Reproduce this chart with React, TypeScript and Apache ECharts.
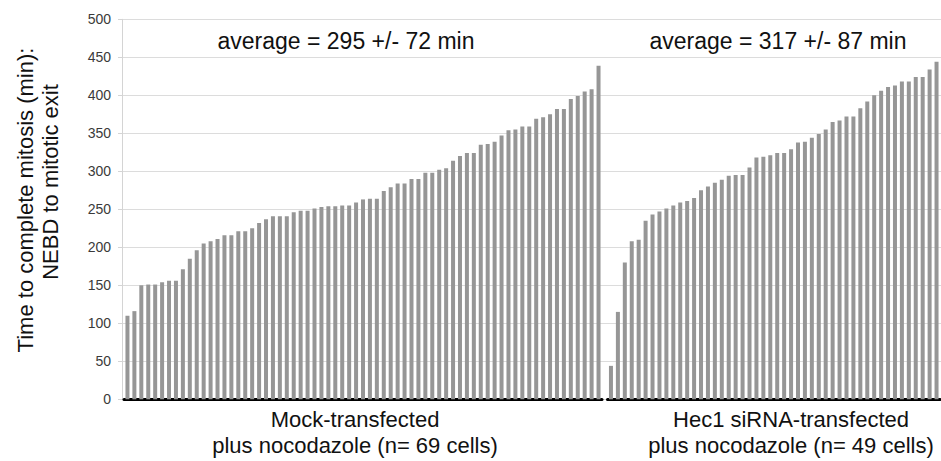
import React, { useEffect, useRef } from "react";
import * as echarts from "echarts";

// Time to complete mitosis (min), one bar per cell, sorted
const mockTimes = [
  110, 116, 150, 151, 151, 154, 156, 156, 171, 185,
  196, 205, 208, 211, 216, 216, 221, 221, 225, 232,
  237, 241, 241, 241, 246, 248, 248, 251, 253, 254,
  254, 255, 255, 259, 263, 264, 264, 274, 279, 284,
  284, 290, 290, 298, 298, 302, 304, 314, 320, 324,
  324, 335, 336, 339, 347, 354, 355, 359, 359, 369,
  371, 375, 382, 382, 395, 399, 405, 408, 439,
];
const hec1Times = [
  44, 115, 180, 208, 210, 235, 243, 247, 251, 255,
  259, 261, 265, 275, 280, 285, 289, 294, 295, 295,
  305, 318, 319, 321, 324, 324, 329, 338, 339, 344,
  349, 355, 365, 367, 372, 372, 383, 392, 400, 406,
  411, 413, 418, 418, 424, 424, 434, 444,
];
const groupTitles = ["average = 295 +/- 72 min", "average = 317 +/- 87 min"];
const groupLabels = [
  "Mock-transfected\nplus nocodazole (n= 69 cells)",
  "Hec1 siRNA-transfected\nplus nocodazole (n= 49 cells)",
];
const yAxisTitleLines = ["Time to complete mitosis (min):", "NEBD to mitotic exit"];
const yMin = 0;
const yMax = 500;
const yStep = 50;

const FONT = "'Liberation Sans', Arial, Helvetica, sans-serif";

export default function App() {
  const ref = useRef<HTMLDivElement>(null);
  useEffect(() => {
    if (!ref.current) return;
    const chart = echarts.init(ref.current, null, { renderer: "svg" });
    const top = 19.3;
    const bottom = 461 - 399.3;
    const hiddenY = (gi: number) => ({
      type: "value" as const,
      gridIndex: gi,
      min: yMin,
      max: yMax,
      interval: yStep,
      show: false,
    });
    const groupX = (gi: number, n: number) => ({
      type: "category" as const,
      gridIndex: gi,
      data: Array.from({ length: n }, (_, i) => String(i + 1)),
      boundaryGap: true,
      offset: 4.7,
      axisLine: { show: true, lineStyle: { color: "#000", width: 3 } },
      axisTick: { show: false },
      axisLabel: { show: false },
      splitLine: { show: false },
    });
    const txt = (x: number, y: number, text: string, fontSize: number, extra: any = {}) => ({
      type: "text",
      x,
      y,
      ...extra,
      style: {
        text,
        fontSize,
        lineHeight: 26,
        fontFamily: FONT,
        fill: "#111",
        align: "center",
        verticalAlign: "middle",
      },
    });
    chart.setOption({
      animation: false,
      backgroundColor: "#fff",
      grid: [
        { left: 122, right: 0, top, bottom },
        { left: 124, width: 478, top, bottom },
        { left: 607.5, right: 1, top, bottom },
      ],
      xAxis: [
        { type: "value", gridIndex: 0, show: false, min: 0, max: 1 },
        groupX(1, mockTimes.length),
        groupX(2, hec1Times.length),
      ],
      yAxis: [
        {
          type: "value",
          gridIndex: 0,
          min: yMin,
          max: yMax,
          interval: yStep,
          axisLine: { show: true, lineStyle: { color: "#d4d4d4", width: 1 } },
          axisTick: { show: true, length: 4, lineStyle: { color: "#d4d4d4" } },
          axisLabel: {
            margin: 11,
            fontSize: 14,
            fontFamily: FONT,
            color: "#3a3a3a",
          },
          splitLine: { show: true, lineStyle: { color: "#dcdcdc", width: 1 } },
        },
        hiddenY(1),
        hiddenY(2),
      ],
      series: [
        {
          type: "bar",
          xAxisIndex: 1,
          yAxisIndex: 1,
          data: mockTimes,
          barWidth: 4,
          itemStyle: { color: "#969696" },
        },
        {
          type: "bar",
          xAxisIndex: 2,
          yAxisIndex: 2,
          data: hec1Times,
          barWidth: 4,
          itemStyle: { color: "#969696" },
        },
      ],
      graphic: [
        txt(346, 41, groupTitles[0], 23),
        txt(778, 41, groupTitles[1], 23),
        txt(355, 432, groupLabels[0], 22),
        txt(791, 432, groupLabels[1], 22),
        txt(25, 200, yAxisTitleLines[0], 22, { rotation: Math.PI / 2 }),
        txt(50, 182, yAxisTitleLines[1], 22, { rotation: Math.PI / 2 }),
      ],
    });
    return () => chart.dispose();
  }, []);
  return (
    <div
      ref={ref}
      style={{ position: "fixed", left: 0, top: 0, width: 941, height: 461, background: "#fff" }}
    />
  );
}
